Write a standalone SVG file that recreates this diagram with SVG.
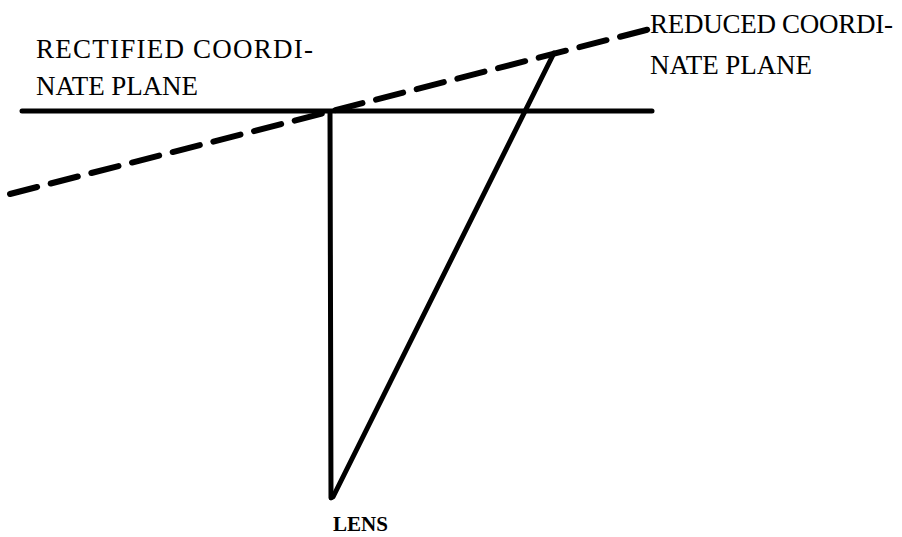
<svg xmlns="http://www.w3.org/2000/svg" width="902" height="537" viewBox="0 0 902 537">
<style>
.ln{stroke:#000;stroke-width:5;fill:none;stroke-linecap:round;stroke-linejoin:round}
.dash{stroke:#000;stroke-width:6;fill:none;stroke-linecap:round;stroke-dasharray:28 14}
.lbl{font-family:"Liberation Serif","DejaVu Serif",serif;font-size:27px;fill:#000}
.lens{font-family:"Liberation Serif","DejaVu Serif",serif;font-size:22px;font-weight:bold;fill:#000}
</style>
<rect width="902" height="537" fill="#fff"/>
<g id="connectors">
<line class="ln" x1="22" y1="111" x2="652" y2="111"/>
<line class="dash" x1="10" y1="194" x2="650" y2="29"/>
<line class="ln" x1="330" y1="112" x2="331" y2="498"/>
<line class="ln" x1="333" y1="497" x2="554" y2="53"/>
</g>
<g id="rectified">
<text class="lbl" x="36" y="58" textLength="277" lengthAdjust="spacing">RECTIFIED COORDI-</text>
<text class="lbl" x="36" y="95" textLength="162" lengthAdjust="spacing">NATE PLANE</text>
</g>
<g id="reduced">
<text class="lbl" x="650" y="33" textLength="243" lengthAdjust="spacing">REDUCED COORDI-</text>
<text class="lbl" x="650" y="74" textLength="162" lengthAdjust="spacing">NATE PLANE</text>
</g>
<g id="lens">
<text class="lens" x="333" y="531" textLength="55" lengthAdjust="spacingAndGlyphs">LENS</text>
</g>
</svg>
